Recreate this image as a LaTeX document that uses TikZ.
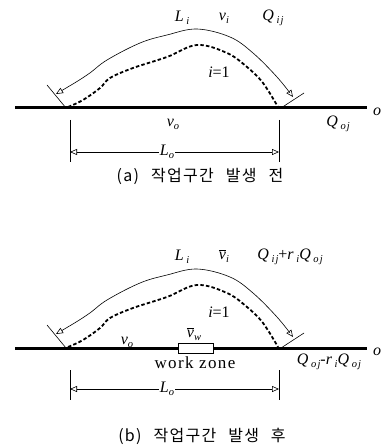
\documentclass[tikz,border=0pt]{standalone}
\usepackage{fontspec}
\setmainfont{Liberation Serif}
\newfontfamily\korfont[LetterSpace=8]{Noto Sans CJK KR}
\usetikzlibrary{arrows.meta}
\newcommand{\sbs}[1]{\raisebox{-0.4ex}{\fontsize{10.5}{10.5}\selectfont\itshape\addfontfeature{LetterSpace=10}#1}}
\newcommand{\vbar}[1]{$\overline{\hbox{\itshape #1}}$}
\newcommand{\gap}{\hspace{0.75em}}
\tikzset{
  doro/.style={line width=3pt},
  gil/.style={line width=1.8pt,dash pattern=on 3.5pt off 2.2pt},
  chai/.style={line width=0.6pt,{Triangle[open,length=7pt,width=6pt]}-{Triangle[open,length=7pt,width=6pt]}},
  gijun/.style={line width=0.6pt},
  lbl/.style={font=\fontsize{16}{16}\selectfont\itshape,inner sep=0pt},
  capt/.style={font=\korfont\fontsize{16}{16}\selectfont,inner sep=0pt},
}
\begin{document}
\begin{tikzpicture}[x=1pt,y=-1pt]
  \useasboundingbox (0,0) rectangle (384,446);
  % (a) before the work zone
  \begin{scope}
    \coordinate (r1) at (15,108); \coordinate (r2) at (367,108);
    \draw[doro] (r1) -- (r2);
    \draw[gil] plot[smooth,tension=0.6] coordinates {(68,107) (83,100) (100,88) (110,78)
      (133,68) (167,57) (197,45) (227,53) (247,67) (263,83) (278,107)};
    \coordinate (ta1) at (47,85); \coordinate (ta2) at (66,108);
    \coordinate (tb1) at (281,108); \coordinate (tb2) at (304,93);
    \draw[gijun] (ta1) -- (ta2); \draw[gijun] (tb1) -- (tb2);
    \draw[chai] plot[smooth,tension=0.6] coordinates {(56,94) (87,75) (107,60) (140,43)
      (167,35) (197,29) (230,37) (253,53) (277,77) (293,97)};
    \node[lbl] (li) at (182,18) {L\,\sbs{i}};
    \node[lbl] (vi) at (224,18) {v\sbs{i}};
    \node[lbl] (qij) at (273,18) {Q\,\sbs{ij}};
    \node[lbl] (ione) at (219,72) {i\textup{=1}};
    \node[lbl] (vo) at (173,124) {v\sbs{o}};
    \node[lbl] (qoj) at (338,124) {Q\,\sbs{oj}};
    \node[lbl] (oo) at (377,112) {o};
    \coordinate (da1) at (70,120); \coordinate (da2) at (70,162);
    \coordinate (db1) at (279,120); \coordinate (db2) at (279,162);
    \draw[gijun] (da1) -- (da2); \draw[gijun] (db1) -- (db2);
    \draw[chai] (70,152) -- (279,152);
    \node[lbl,fill=white,inner xsep=1pt] (lo) at (167,152) {L\sbs{o}};
    \node[capt] (capa) at (200,176) {(a)\gap 작업구간\gap 발생\gap 전};
  \end{scope}
  % (b) after the work zone
  \begin{scope}[yshift=-240pt]
    \coordinate (r1) at (15,108); \coordinate (r2) at (367,108);
    \draw[doro] (r1) -- (r2);
    \draw[gil] plot[smooth,tension=0.6] coordinates {(68,107) (83,100) (100,88) (110,78)
      (133,68) (167,57) (197,45) (227,53) (247,67) (263,83) (278,107)};
    \coordinate (ta1) at (47,85); \coordinate (ta2) at (66,108);
    \coordinate (tb1) at (281,108); \coordinate (tb2) at (304,93);
    \draw[gijun] (ta1) -- (ta2); \draw[gijun] (tb1) -- (tb2);
    \draw[chai] plot[smooth,tension=0.6] coordinates {(56,94) (87,75) (107,60) (140,43)
      (167,35) (197,29) (230,37) (253,53) (277,77) (293,97)};
    \node[draw,fill=white,line width=0.6pt,minimum width=35pt,minimum height=10pt,inner sep=0pt] (wz) at (195.5,108) {};
    \node[lbl] (li) at (182,17) {L\,\sbs{i}};
    \node[lbl] (vi) at (224,16) {\vbar{v}\sbs{i}};
    \node[lbl] (qij) at (290,17) {Q\,\sbs{ij}\textup{+}r\,\sbs{i}Q\,\sbs{oj}};
    \node[lbl] (ione) at (219,72) {i\textup{=1}};
    \node[lbl] (vo) at (127,102) {v\sbs{o}};
    \node[lbl] (vw) at (194,94) {\vbar{v}\sbs{w}};
    \node[lbl,font=\fontsize{17}{17}\selectfont\upshape\addfontfeature{LetterSpace=8}] (wzt) at (195,123) {work zone};
    \node[lbl] (qoj) at (329,122) {Q\,\sbs{oj}\textup{-}r\,\sbs{i}Q\,\sbs{oj}};
    \node[lbl] (oo) at (377,112) {o};
    \coordinate (da1) at (70,130); \coordinate (da2) at (70,160);
    \coordinate (db1) at (279,130); \coordinate (db2) at (279,160);
    \draw[gijun] (da1) -- (da2); \draw[gijun] (db1) -- (db2);
    \draw[chai] (70,149) -- (279,149);
    \node[lbl,fill=white,inner xsep=1pt] (lo) at (167,149) {L\sbs{o}};
    \node[capt] (capb) at (202,196) {(b)\gap 작업구간\gap 발생\gap 후};
  \end{scope}
\end{tikzpicture}
\end{document}
